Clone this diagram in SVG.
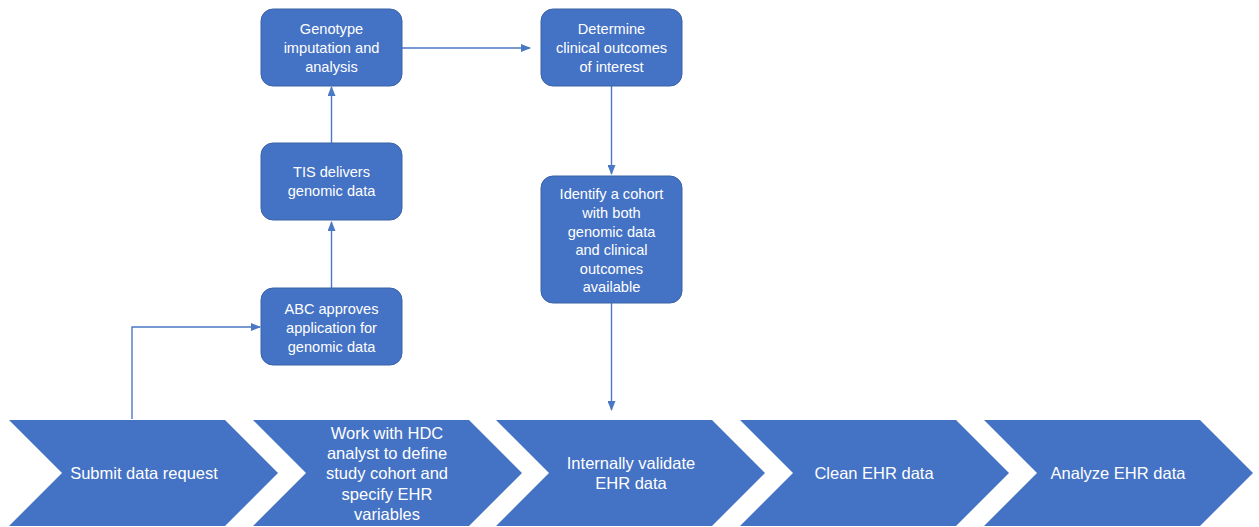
<svg xmlns="http://www.w3.org/2000/svg" width="1259" height="527" viewBox="0 0 1259 527">
<defs>
<style>
.box{fill:#4472C4;stroke:#3A62A8;stroke-width:1}
.chev{fill:#4472C4}
.t{font-family:"Liberation Sans",Arial,sans-serif;fill:#ffffff;text-anchor:middle}
.bt{font-size:14.6px}
.ct{font-size:16.5px}
.edge{fill:none;stroke:#4A78C6;stroke-width:1.4}
</style>
<marker id="ah" markerWidth="10" markerHeight="8" refX="9" refY="4" orient="auto" markerUnits="userSpaceOnUse">
<path d="M0,0 L10,4 L0,8 Z" fill="#4A78C6"/>
</marker>
</defs>
<rect width="1259" height="527" fill="#ffffff"/>

<g id="connectors">
<path class="edge" d="M132,419 V327 H260" marker-end="url(#ah)"/>
<path class="edge" d="M331.5,288 V222" marker-end="url(#ah)"/>
<path class="edge" d="M331.5,143 V87" marker-end="url(#ah)"/>
<path class="edge" d="M402,48 H530" marker-end="url(#ah)"/>
<path class="edge" d="M611.5,86 V174" marker-end="url(#ah)"/>
<path class="edge" d="M611.5,303 V410" marker-end="url(#ah)"/>
</g>

<g id="genotype">
<rect class="box" x="261" y="9" width="141" height="77" rx="12"/>
<text class="t bt" x="331.5" y="34">Genotype</text>
<text class="t bt" x="331.5" y="53">imputation and</text>
<text class="t bt" x="331.5" y="72">analysis</text>
</g>
<g id="determine">
<rect class="box" x="541" y="9" width="141" height="77" rx="12"/>
<text class="t bt" x="611.5" y="34">Determine</text>
<text class="t bt" x="611.5" y="53">clinical outcomes</text>
<text class="t bt" x="611.5" y="72">of interest</text>
</g>
<g id="tis">
<rect class="box" x="261" y="143" width="141" height="77" rx="12"/>
<text class="t bt" x="331.5" y="177">TIS delivers</text>
<text class="t bt" x="331.5" y="196">genomic data</text>
</g>
<g id="abc">
<rect class="box" x="261" y="288" width="141" height="77" rx="12"/>
<text class="t bt" x="331.5" y="314">ABC approves</text>
<text class="t bt" x="331.5" y="333">application for</text>
<text class="t bt" x="331.5" y="352">genomic data</text>
</g>
<g id="identify">
<rect class="box" x="541" y="176" width="141" height="127" rx="12"/>
<text class="t bt" x="611.5" y="199">Identify a cohort</text>
<text class="t bt" x="611.5" y="218">with both</text>
<text class="t bt" x="611.5" y="237">genomic data</text>
<text class="t bt" x="611.5" y="255">and clinical</text>
<text class="t bt" x="611.5" y="274">outcomes</text>
<text class="t bt" x="611.5" y="292">available</text>
</g>

<g id="submit">
<polygon class="chev" points="9,420 225,420 278,473 225,526 9,526 62,473"/>
<text class="t ct" x="144" y="479">Submit data request</text>
</g>
<g id="work">
<polygon class="chev" points="253,420 469,420 522,473 469,526 253,526 306,473"/>
<text class="t ct" x="387" y="439">Work with HDC</text>
<text class="t ct" x="387" y="459">analyst to define</text>
<text class="t ct" x="387" y="479">study cohort and</text>
<text class="t ct" x="387" y="500">specify EHR</text>
<text class="t ct" x="387" y="520">variables</text>
</g>
<g id="validate">
<polygon class="chev" points="496,420 712,420 765,473 712,526 496,526 549,473"/>
<text class="t ct" x="631" y="469">Internally validate</text>
<text class="t ct" x="631" y="489">EHR data</text>
</g>
<g id="clean">
<polygon class="chev" points="740,420 956,420 1009,473 956,526 740,526 793,473"/>
<text class="t ct" x="874" y="479">Clean EHR data</text>
</g>
<g id="analyze">
<polygon class="chev" points="984,420 1200,420 1253,473 1200,526 984,526 1037,473"/>
<text class="t ct" x="1118" y="479">Analyze EHR data</text>
</g>
</svg>
